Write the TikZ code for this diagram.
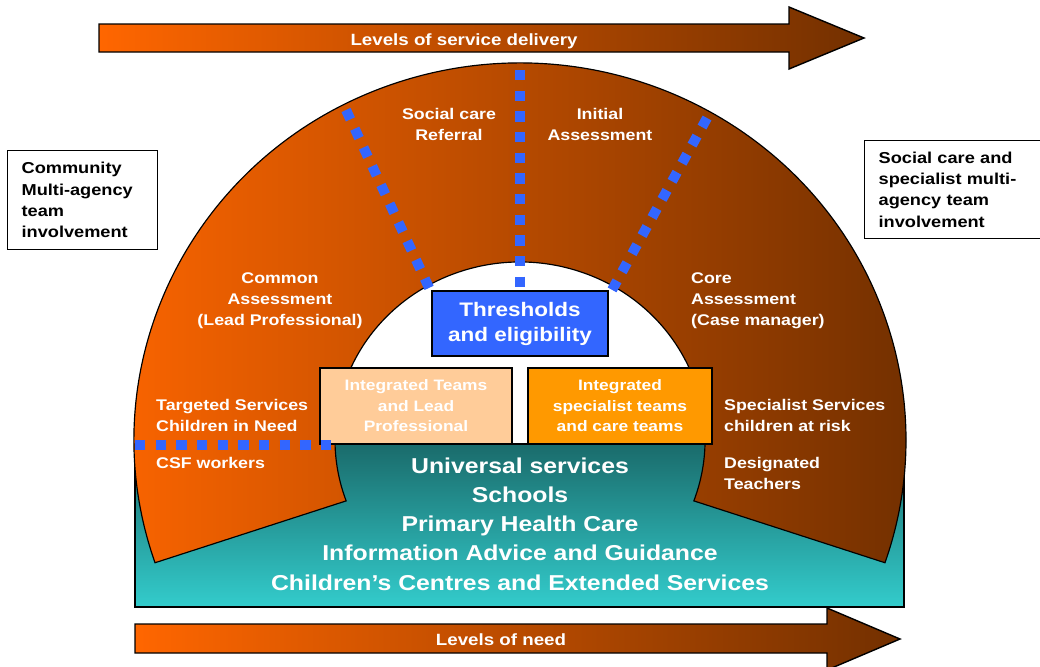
\documentclass[tikz,border=0pt]{standalone}
\usepackage{fontspec}
\setmainfont{Liberation Sans}[FakeStretch=1.15]
\usepackage{tikz}

\definecolor{needorange}{HTML}{FF6600}
\definecolor{needbrown}{HTML}{733000}
\definecolor{tealdark}{HTML}{1A6B6B}
\definecolor{teallight}{HTML}{33CCCC}
\definecolor{thresholdblue}{HTML}{3366FF}
\definecolor{peach}{HTML}{FFCC99}
\definecolor{teamorange}{HTML}{FF9900}

\tikzset{
    levelarrow/.style={draw=black, line width=1.2pt, left color=needorange, right color=needbrown},
    bluedots/.style={thresholdblue, line width=0.3cm, dash pattern=on 0.31cm off 0.31cm},
    arclabel/.style={text=white, inner sep=0pt, font=\bfseries\fontsize{13.2}{17.9}\selectfont},
    teambox/.style={draw=black, line width=1.3pt, text=white, minimum height=2.28cm, inner sep=0pt, align=center, font=\bfseries\fontsize{12.9}{17.5}\selectfont},
    sidebox/.style={draw=black, line width=1.1pt, fill=white, anchor=north west, inner xsep=0.42cm, inner ysep=0pt, align=left, font=\bfseries\fontsize{13.5}{18.2}\selectfont}
}

\begin{document}
\begin{tikzpicture}[x=0.03cm, y=0.03cm]
    \useasboundingbox (0,0) rectangle (1040,-666);
    \clip (0,0) rectangle (1040,-666);

    \path[levelarrow] (99,-24) -- (789,-24) -- (789,-7) -- (864,-38) -- (789,-69) -- (789,-52) -- (99,-52) -- cycle;
    \path[levelarrow] (135,-624) -- (827,-624) -- (827,-608) -- (900,-639) -- (827,-670) -- (827,-653) -- (135,-653) -- cycle;
    \node[arclabel, anchor=base, font=\bfseries\fontsize{13.9}{17}\selectfont] (delivery) at (464,-45) {Levels of service delivery};
    \node[arclabel, anchor=base, font=\bfseries\fontsize{13.9}{17}\selectfont] (need) at (501,-645) {Levels of need};

    \path[draw=black, line width=1.1pt, top color=tealdark, bottom color=teallight] (135,-444) rectangle (904,-607);

    \coordinate (hub) at (520,-440);
    \path[draw=black, line width=1pt, left color=needorange, right color=needbrown]
        (hub) ++(199:386 and 377) arc[start angle=199, end angle=-19, x radius=386, y radius=377]
        -- ([shift={(-20:185 and 178)}]hub) arc[start angle=-20, end angle=200, x radius=185, y radius=178] -- cycle;

    \coordinate (spine top) at (520,-70);
    \coordinate (spine end) at (520,-358);
    \coordinate (referral top) at (346,-110);
    \coordinate (referral end) at (431,-292);
    \coordinate (initial top) at (707,-118);
    \coordinate (initial end) at (612,-290);
    \draw[bluedots] (spine top) -- (spine end);
    \draw[bluedots] (referral top) -- (referral end);
    \draw[bluedots] (initial top) -- (initial end);

    % multi-line labels sit on the baseline of their last line
    \node[arclabel, anchor=base, align=center] (referral) at (449,-140) {Social care\\Referral};
    \node[arclabel, anchor=base, align=center] (initial) at (600,-140) {Initial\\Assessment};
    \node[arclabel, anchor=base, align=center] (common) at (280,-325) {Common\\Assessment\\(Lead Professional)};
    \node[arclabel, anchor=base west, align=left] (core) at (691,-325) {Core\\Assessment\\(Case manager)};
    \node[arclabel, anchor=base west, align=left] (targeted) at (156,-431) {Targeted Services\\Children in Need};
    \node[arclabel, anchor=base west] (csf) at (156,-468) {CSF workers};
    \node[arclabel, anchor=base west, align=left] (atrisk) at (724,-431) {Specialist Services\\children at risk};
    \node[arclabel, anchor=base west, align=left] (teachers) at (724,-489) {Designated\\Teachers};

    \node[arclabel, anchor=base, align=center, font=\bfseries\fontsize{18.4}{24.9}\selectfont] (universal) at (520,-590)
        {Universal services\\Schools\\Primary Health Care\\Information Advice and Guidance\\Children’s Centres and Extended Services};

    \node[draw=black, line width=1.3pt, fill=thresholdblue, text=white, minimum width=5.28cm, minimum height=1.95cm, inner sep=0pt, align=center, font=\bfseries\fontsize{16.7}{21.3}\selectfont] (thresholds) at (520,-323.5) {Thresholds\\and eligibility};
    \node[teambox, fill=peach, minimum width=5.76cm] (leadteams) at (416,-406) {Integrated Teams\\and Lead\\Professional};
    \node[teambox, fill=teamorange, minimum width=5.52cm] (careteams) at (620,-406) {Integrated\\specialist teams\\and care teams};

    \coordinate (csf line start) at (135,-445);
    \coordinate (csf line end) at (335,-445);
    \draw[bluedots] (csf line start) -- (csf line end);

    \node[sidebox, text width=3.66cm, minimum height=2.97cm] (community) at (7,-150) {Community\\Multi-agency\\team\\involvement};
    \node[sidebox, text width=5.16cm, minimum height=2.94cm] (socialcare) at (864,-140) {Social care and\\specialist multi-\\agency team\\involvement};
\end{tikzpicture}
\end{document}
